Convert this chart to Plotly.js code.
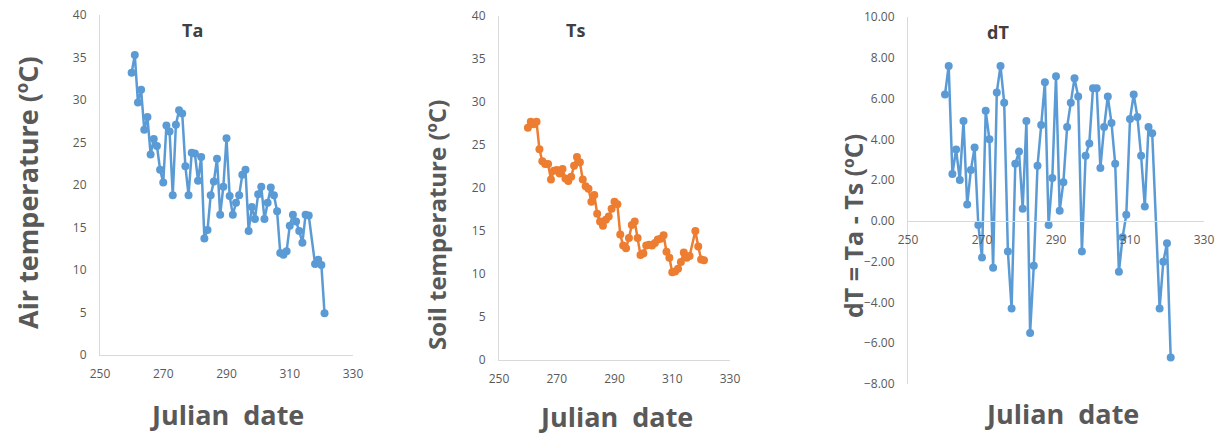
<!DOCTYPE html>
<html>
<head>
<meta charset="utf-8">
<script src="https://cdn.plot.ly/plotly-3.0.1.min.js"></script>
<style>html,body{margin:0;padding:0;background:#fff;}#chart{width:1221px;height:434px;}</style>
</head>
<body>
<div id="chart"></div>
<script>
// Julian dates (day 317 missing)
var days = [260,261,262,263,264,265,266,267,268,269,270,271,272,273,274,275,276,277,278,279,
            280,281,282,283,284,285,286,287,288,289,290,291,292,293,294,295,296,297,298,299,
            300,301,302,303,304,305,306,307,308,309,310,311,312,313,314,315,316,318,319,320,321];
// Air temperature Ta (ºC)
var ta = [33.2,35.3,29.7,31.2,26.5,28.0,23.6,25.4,24.6,21.8,20.3,27.0,26.3,18.8,27.1,28.8,28.4,22.2,18.8,23.8,
          23.7,20.5,23.3,13.7,14.7,18.8,20.4,23.1,16.5,19.8,25.5,18.7,16.5,17.9,18.8,21.2,21.8,14.6,17.4,16.0,
          18.9,19.8,16.0,17.9,19.7,18.8,16.9,12.0,11.8,12.2,15.2,16.5,15.7,14.6,13.2,16.5,16.4,10.7,11.2,10.6,4.9];
// Soil temperature Ts (ºC)
var ts = [27.0,27.7,27.4,27.7,24.5,23.1,22.8,22.8,21.0,22.0,22.1,21.7,22.2,21.1,20.8,21.3,22.6,23.6,23.0,21.0,
          20.2,19.9,18.4,19.2,17.0,16.1,15.6,16.3,16.7,17.6,18.4,18.1,14.6,13.3,13.0,14.2,15.7,16.1,14.2,12.2,
          12.4,13.3,13.4,13.3,13.6,14.0,14.1,14.5,12.6,11.9,10.2,10.3,10.6,11.4,12.5,11.9,12.1,15.0,13.2,11.7,11.6];
// dT = Ta - Ts (ºC)
var dt = [6.2,7.6,2.3,3.5,2.0,4.9,0.8,2.5,3.6,-0.2,-1.8,5.4,4.0,-2.3,6.3,7.6,5.8,-1.5,-4.3,2.8,
          3.4,0.6,4.9,-5.5,-2.2,2.7,4.7,6.8,-0.2,2.1,7.1,0.5,1.9,4.6,5.8,7.0,6.1,-1.5,3.2,3.8,
          6.5,6.5,2.6,4.6,6.1,4.8,2.8,-2.5,-0.8,0.3,5.0,6.2,5.1,3.2,0.7,4.6,4.3,-4.3,-2.0,-1.1,-6.7];

var xTicks = [250,270,290,310,330];
var panelTitles = ["Ta","Ts","dT"];
var yTitles = ["Air temperature (ºC)","Soil temperature (ºC)","dT = Ta - Ts (ºC)"];
var xTitle = "Julian\u00a0\u00a0date";

var W = 1221, H = 434;
function px(v){return v/W;}
function py(v){return 1 - v/H;}

var blue = "#5B9BD5", orange = "#ED7D31";
var tickFont = {family:"Open Sans, sans-serif", size:12, color:"#595959"};
var lineCol = "#D9D9D9";

function trace(y, col, xa, ya){
  return {x:days, y:y, type:"scatter", mode:"lines+markers", xaxis:xa, yaxis:ya,
          line:{color:col, width:2.5}, marker:{color:col, size:8, symbol:"circle"},
          hoverinfo:"x+y", showlegend:false, cliponaxis:false};
}

var data = [trace(ta, blue, "x", "y"), trace(ts, orange, "x2", "y2"), trace(dt, blue, "x3", "y3")];

function xaxis(d0, d1, anchor, extra){
  var a = {domain:[px(d0), px(d1)], range:[250,330], tickvals:xTicks, ticktext:xTicks.map(String),
           showgrid:false, zeroline:false, showline:true, linecolor:lineCol, linewidth:1,
           ticks:"", tickfont:tickFont, ticklabelstandoff:8, anchor:anchor, fixedrange:true};
  for (var k in extra) a[k] = extra[k];
  return a;
}
function yaxis(top, bottom, range, dtick, anchor, extra){
  var a = {domain:[py(bottom), py(top)], range:range, dtick:dtick, tick0:0,
           showgrid:false, zeroline:false, showline:true, linecolor:lineCol, linewidth:1,
           ticks:"", tickfont:tickFont, ticklabelstandoff:10, anchor:anchor, fixedrange:true};
  for (var k in extra) a[k] = extra[k];
  return a;
}

var titleFont = {family:"Open Sans, sans-serif", size:18, color:"#404040"};
function big(size){ return {family:"Open Sans, sans-serif", size:size, color:"#595959"}; }

function ann(text, x, y, font, angle){
  return {text:"<b>"+text+"</b>", x:px(x), y:py(y), xref:"paper", yref:"paper",
          xanchor:"center", yanchor:"middle", showarrow:false, font:font, textangle:angle||0};
}

var layout = {
  width:W, height:H, margin:{l:0,r:0,t:0,b:0}, paper_bgcolor:"#ffffff", plot_bgcolor:"rgba(0,0,0,0)",
  showlegend:false,
  xaxis: xaxis(100, 353, "y", {}),
  yaxis: yaxis(15, 355, [0,40], 5, "x", {}),
  xaxis2: xaxis(499, 730, "y2", {}),
  yaxis2: yaxis(16, 360, [0,40], 5, "x2", {}),
  xaxis3: xaxis(908, 1204, "free", {position: py(221)}),
  yaxis3: yaxis(17, 384, [-8,10], 2, "x3", {tickformat:".2f"}),
  annotations: [
    ann(panelTitles[0], 192, 30, titleFont),
    ann(panelTitles[1], 575, 30, titleFont),
    ann(panelTitles[2], 998, 32, titleFont),
    ann(yTitles[0], 27, 193, big(27), -90),
    ann(yTitles[1], 436, 225, big(24), -90),
    ann(yTitles[2], 853, 226, big(25), -90),
    ann(xTitle, 227, 414, big(27)),
    ann(xTitle, 616, 416, big(27)),
    ann(xTitle, 1062, 413, big(27))
  ]
};

Plotly.newPlot("chart", data, layout, {displayModeBar:false, staticPlot:true});
</script>
</body>
</html>
